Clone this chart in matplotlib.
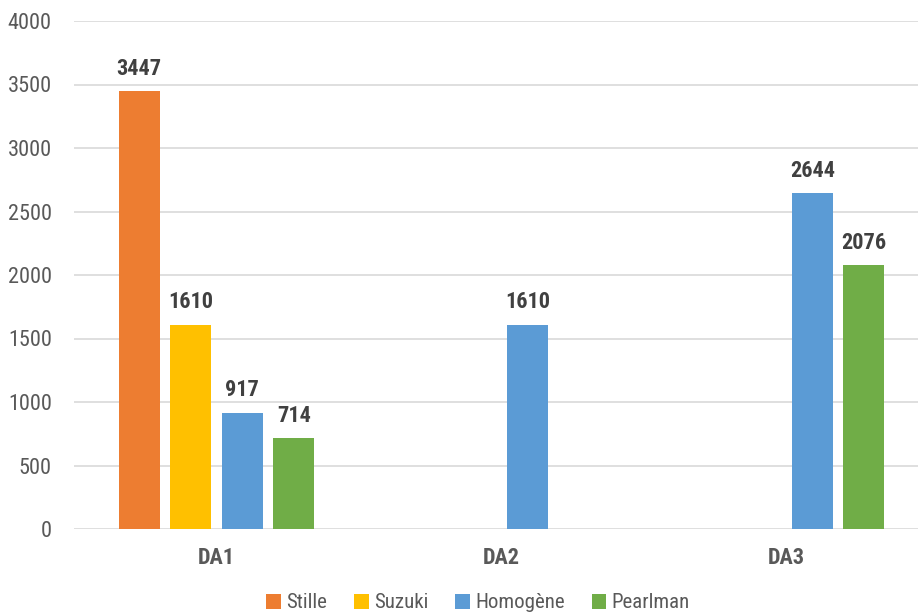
import numpy as np
import matplotlib.pyplot as plt
from matplotlib.patches import Patch

plt.rcParams["font.family"] = ["Liberation Sans Narrow", "Roboto Condensed",
                               "Fira Sans Condensed", "DejaVu Sans"]

groups = ["DA1", "DA2", "DA3"]
series = ["Stille", "Suzuki", "Homogène", "Pearlman"]
stille = [3447, np.nan, np.nan]
suzuki = [1610, np.nan, np.nan]
homogene = [917, 1610, 2644]
pearlman = [714, np.nan, 2076]
values = [stille, suzuki, homogene, pearlman]
colors = ["#ED7D31", "#FFC000", "#5B9BD5", "#70AD47"]
yticks = [0, 500, 1000, 1500, 2000, 2500, 3000, 3500, 4000]

W, H = 918, 615
fig = plt.figure(figsize=(W / 100, H / 100), dpi=100)
ax = fig.add_axes([74 / W, 86 / H, (929 - 74) / W, 508 / H])

x = np.arange(len(groups))
step = 0.181
width = 0.144
for i, (name, vals, col) in enumerate(zip(series, values, colors)):
    pos = x + (i - 1.5) * step
    ax.bar(pos, vals, width=width, color=col, zorder=3)
    for px, v in zip(pos, vals):
        if np.isnan(v):
            continue
        ax.annotate(f"{v:.0f}", (px, v), xytext=(0, 8), textcoords="offset points",
                    ha="center", va="bottom", fontsize=16, fontweight="bold",
                    color="#404040")

ax.set_xlim(-0.5, 2.5)
ax.set_ylim(0, 4000)
ax.set_yticks(yticks)
ax.set_xticks(x)
ax.set_xticklabels(groups, fontweight="bold", fontsize=16, color="#595959")
ax.tick_params(axis="y", length=0, pad=16, labelsize=16, labelcolor="#595959")
ax.tick_params(axis="x", length=0, pad=13)
ax.yaxis.grid(True, color="#D9D9D9", linewidth=1.2, zorder=0)
ax.set_axisbelow(True)
for s in ax.spines.values():
    s.set_visible(False)

handles = [Patch(facecolor=c, edgecolor="none") for c in colors]
fig.legend(handles, series, loc="center", bbox_to_anchor=(478 / W, 1 - 603 / H),
           ncol=4, frameon=False, fontsize=15, handlelength=0.7, handleheight=0.7,
           handletextpad=0.25, columnspacing=1.3, labelcolor="#595959")

fig.savefig("out.png", dpi=100)
